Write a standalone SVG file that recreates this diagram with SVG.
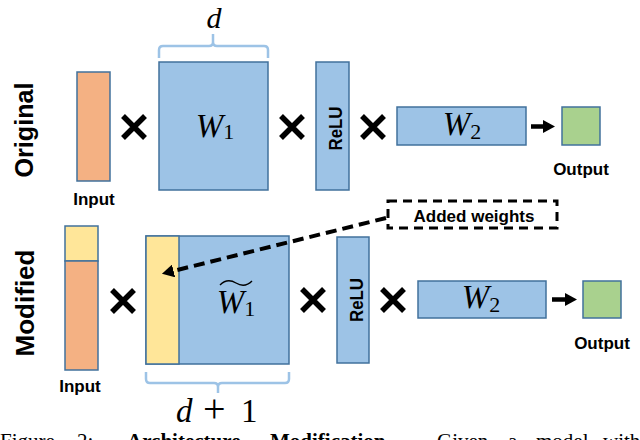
<svg xmlns="http://www.w3.org/2000/svg" xmlns:xlink="http://www.w3.org/1999/xlink" width="640" height="440" viewBox="0 0 640 440">
<style>
.box{stroke:#41719C;stroke-width:1.5}
.blue{fill:#9DC3E6}
.orange{fill:#F4B183}
.yellow{fill:#FFE699}
.green{fill:#A9D18E}
.lbl{font-family:"Liberation Sans",Arial,sans-serif;font-weight:bold;font-size:17px;fill:#000}
.side{font-family:"Liberation Sans",Arial,sans-serif;font-weight:bold;font-size:25px;fill:#000}
.relu{font-family:"Liberation Sans",Arial,sans-serif;font-weight:bold;font-size:18px;fill:#000}
.math{font-family:"Liberation Serif","Times New Roman",serif;font-style:italic;font-size:33px;fill:#000}
.sub{font-style:normal;font-size:22px}
.brace{fill:none;stroke:#9DC3E6;stroke-width:2.5;stroke-linejoin:round}
.times{fill:none;stroke:#000;stroke-width:5.5}
.cap{font-family:"Liberation Serif","Times New Roman",serif;font-size:21px;fill:#000}
</style>
<defs>
<path id="x" class="times" d="M-11,-11 L11,11 M11,-11 L-11,11"/>
<marker id="head" markerUnits="userSpaceOnUse" markerWidth="13" markerHeight="13" refX="0" refY="6.5" orient="auto">
<path d="M0,0 L12,6.5 L0,13 Z" fill="#000"/>
</marker>
</defs>

<text class="side" transform="translate(33,130) rotate(-90)" text-anchor="middle" textLength="95" lengthAdjust="spacingAndGlyphs">Original</text>
<text class="side" transform="translate(34,303) rotate(-90)" text-anchor="middle" textLength="107" lengthAdjust="spacingAndGlyphs">Modified</text>

<!-- Original row -->
<g id="input-orig">
<rect class="box orange" x="77" y="72" width="33" height="109"/>
<text class="lbl" x="94" y="205" text-anchor="middle">Input</text>
</g>
<use xlink:href="#x" href="#x" x="134" y="127"/>
<g id="w1-orig">
<rect class="box blue" x="159" y="62" width="109" height="128"/>
<text class="math" x="215" y="137" text-anchor="middle">W<tspan class="sub" dy="2">1</tspan></text>
<path class="brace" d="M159,58 V50 Q159,46 163,46 H209 Q213,46 213,42 V34 M213,42 Q213,46 217,46 H264 Q268,46 268,50 V58"/>
<text class="math" x="214" y="28" text-anchor="middle" style="font-size:30px">d</text>
</g>
<use xlink:href="#x" href="#x" x="292" y="127"/>
<g id="relu-orig">
<rect class="box blue" x="316" y="62" width="33" height="128"/>
<text class="relu" transform="translate(342,128.5) rotate(-90)" text-anchor="middle" textLength="44" lengthAdjust="spacingAndGlyphs">ReLU</text>
</g>
<use xlink:href="#x" href="#x" x="373" y="127"/>
<g id="w2-orig">
<rect class="box blue" x="397" y="107" width="129" height="38"/>
<text class="math" x="462" y="135" text-anchor="middle">W<tspan class="sub" dy="4">2</tspan></text>
</g>
<g id="output-orig">
<rect class="box green" x="562" y="107" width="38" height="38"/>
<text class="lbl" x="581" y="175" text-anchor="middle">Output</text>
</g>

<!-- Modified row -->
<g id="input-mod">
<rect class="box yellow" x="65" y="226" width="33" height="35"/>
<rect class="box orange" x="65" y="261" width="33" height="109"/>
<text class="lbl" x="80" y="392" text-anchor="middle">Input</text>
</g>
<use xlink:href="#x" href="#x" x="123" y="301"/>
<g id="w1-mod">
<rect class="box blue" x="146" y="236" width="143" height="128"/>
<rect class="box yellow" x="146" y="236" width="33" height="128"/>
<text class="math" x="236" y="313" text-anchor="middle">W<tspan class="sub" dy="3">1</tspan></text>
<path d="M220,285 C226,279 231,280 236,283 C241,286 246,287 252,281" fill="none" stroke="#000" stroke-width="1.4"/>
<path class="brace" d="M146,372 V379 Q146,383 150,383 H214 Q218,383 218,387 V393 M218,387 Q218,383 222,383 H285 Q289,383 289,379 V372"/>
<text class="math" y="422"><tspan x="176">d</tspan><tspan x="203" font-style="normal" font-size="40">+</tspan><tspan x="241" font-style="normal">1</tspan></text>
</g>
<use xlink:href="#x" href="#x" x="313" y="300"/>
<g id="relu-mod">
<rect class="box blue" x="337" y="237" width="32" height="126"/>
<text class="relu" transform="translate(362.5,300) rotate(-90)" text-anchor="middle" textLength="44" lengthAdjust="spacingAndGlyphs">ReLU</text>
</g>
<use xlink:href="#x" href="#x" x="393" y="300"/>
<g id="w2-mod">
<rect class="box blue" x="418" y="281" width="128" height="37"/>
<text class="math" x="481" y="308" text-anchor="middle">W<tspan class="sub" dy="4">2</tspan></text>
</g>
<g id="output-mod">
<rect class="box green" x="583" y="281" width="38" height="37"/>
<text class="lbl" x="602" y="349" text-anchor="middle">Output</text>
</g>
<g id="added-weights">
<rect x="388" y="201" width="169" height="27" fill="none" stroke="#000" stroke-width="3" stroke-dasharray="9 6"/>
<text class="lbl" x="474" y="222" text-anchor="middle">Added weights</text>
</g>

<g id="connectors">
<line x1="531" y1="126.5" x2="543" y2="126.5" stroke="#000" stroke-width="4.5" marker-end="url(#head)"/>
<line x1="552" y1="299.5" x2="565" y2="299.5" stroke="#000" stroke-width="4.5" marker-end="url(#head)"/>
<path d="M386,218 L173.6,270.9" fill="none" stroke="#000" stroke-width="4" stroke-dasharray="11 6" marker-end="url(#head)"/>
</g>

<text class="cap" y="448"><tspan x="0">Figure</tspan><tspan x="77">2:</tspan><tspan x="127" font-weight="bold">Architecture</tspan><tspan x="270" font-weight="bold">Modification.</tspan><tspan x="437">Given</tspan><tspan x="508">a</tspan><tspan x="536">model</tspan><tspan x="603">with</tspan></text>
</svg>
